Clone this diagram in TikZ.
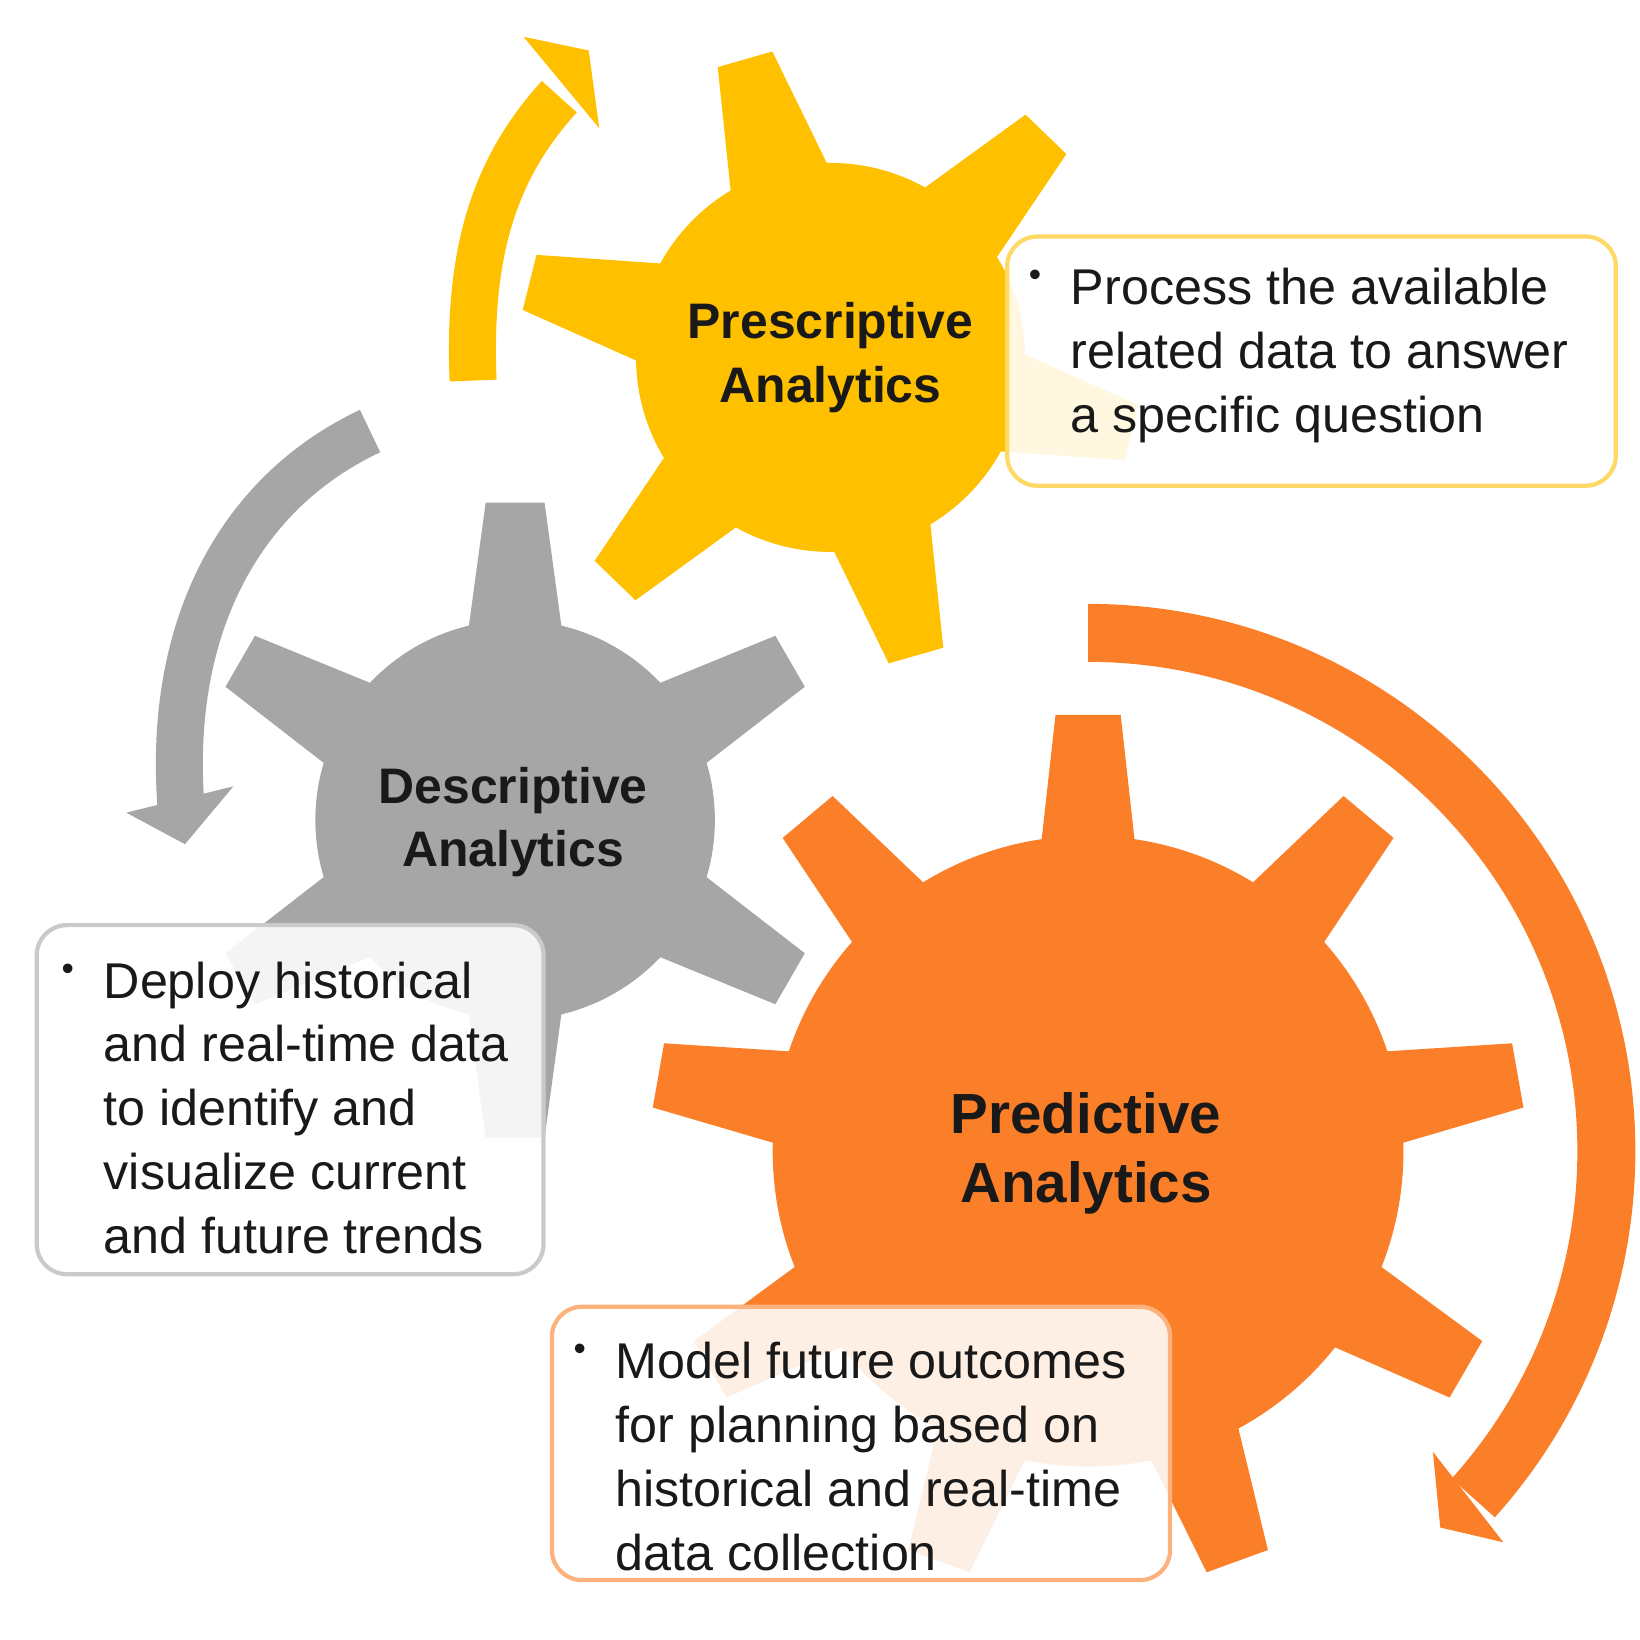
\documentclass[tikz,border=0pt]{standalone}
\usepackage{fontspec}
\setmainfont{Liberation Sans}
\begin{document}
\definecolor{cy}{HTML}{FFC000}
\definecolor{cg}{HTML}{A6A6A6}
\definecolor{co}{HTML}{FB7E28}
\def\mygear#1#2#3#4#5#6#7#8#9{\begin{scope}[shift={(#1,#2)}]
\fill[#9] (0,0) circle[radius=#3];
\foreach \k in {1,...,#5}{\fill[#9,rotate=#6+\k*360/#5] (#3-20,-#7)--(#4,-#8)--(#4,#8)--(#3-20,#7)--cycle;}
\end{scope}}
\begin{tikzpicture}[x=0.010513cm,y=-0.010513cm,
  box/.style={draw,line width=1.2pt,rounded corners=0.3cm,fill=white,fill opacity=0.88,text opacity=1,anchor=north west,inner sep=0pt},
  body/.style={font=\fontsize{14.3}{18.2}\selectfont,align=left,anchor=north west,inner sep=0pt,text=black!90},
  bul/.style={font=\fontsize{10}{18.2}\selectfont,anchor=north west,inner sep=0pt,text=black!90},
  glab/.style={font=\bfseries\fontsize{14.2}{18.2}\selectfont,align=center,text=black!90}]
\useasboundingbox (0,0) rectangle (1560,1560);
% gears
\mygear{790}{340}{185}{295}{6}{46}{50}{27}{cy}
\mygear{490}{780}{190}{302}{6}{30}{46}{28}{cg}
\mygear{1035}{1095}{300}{415}{9}{90}{46}{31}{co}
% arrows
\draw[cy,line width=0.47cm] (450,362) .. controls (445,240) and (470,160) .. (532,92);
\fill[cy] (498,35) -- (560,48) -- (570,122) -- cycle;
\draw[cg,line width=0.47cm] (352,410) .. controls (225,470) and (160,600) .. (172,765);
\fill[cg] (120,773) -- (222,748) -- (176,803) -- cycle;
\begin{scope}[shift={(1035,1095)},yscale=-1]
\draw[co,line width=0.58cm] (90:493) arc[start angle=90,end angle=-42,radius=493];
\end{scope}
\fill[co] (1363,1381) -- (1430,1467) -- (1370,1453) -- cycle;
% gear labels
\node[glab] (pres) at (790,340) {Prescriptive\\Analytics};
\node[glab] (desc) at (488,782) {Descriptive\\Analytics};
\node[glab,font=\bfseries\fontsize{16.1}{19.6}\selectfont] (pred) at (1033,1097) {Predictive\\Analytics};
% boxes
\path[box,draw=cy!60] (958,225) rectangle (1537,462);
\path[box,draw=cg!60] (35,880) rectangle (517,1212);
\path[box,draw=co!60] (525,1243) rectangle (1113,1503);
\node[body] (t1) at (1018,254) {Process the available\\related data to answer\\a specific question};
\node[bul] at (978,256) {•};
\node[body] (t2) at (98,914) {Deploy historical\\and real-time data\\to identify and\\visualize current\\and future trends};
\node[bul] at (58,916) {•};
\node[body] (t3) at (585,1276) {Model future outcomes\\for planning based on\\historical and real-time\\data collection};
\node[bul] at (545,1278) {•};
\end{tikzpicture}
\end{document}
